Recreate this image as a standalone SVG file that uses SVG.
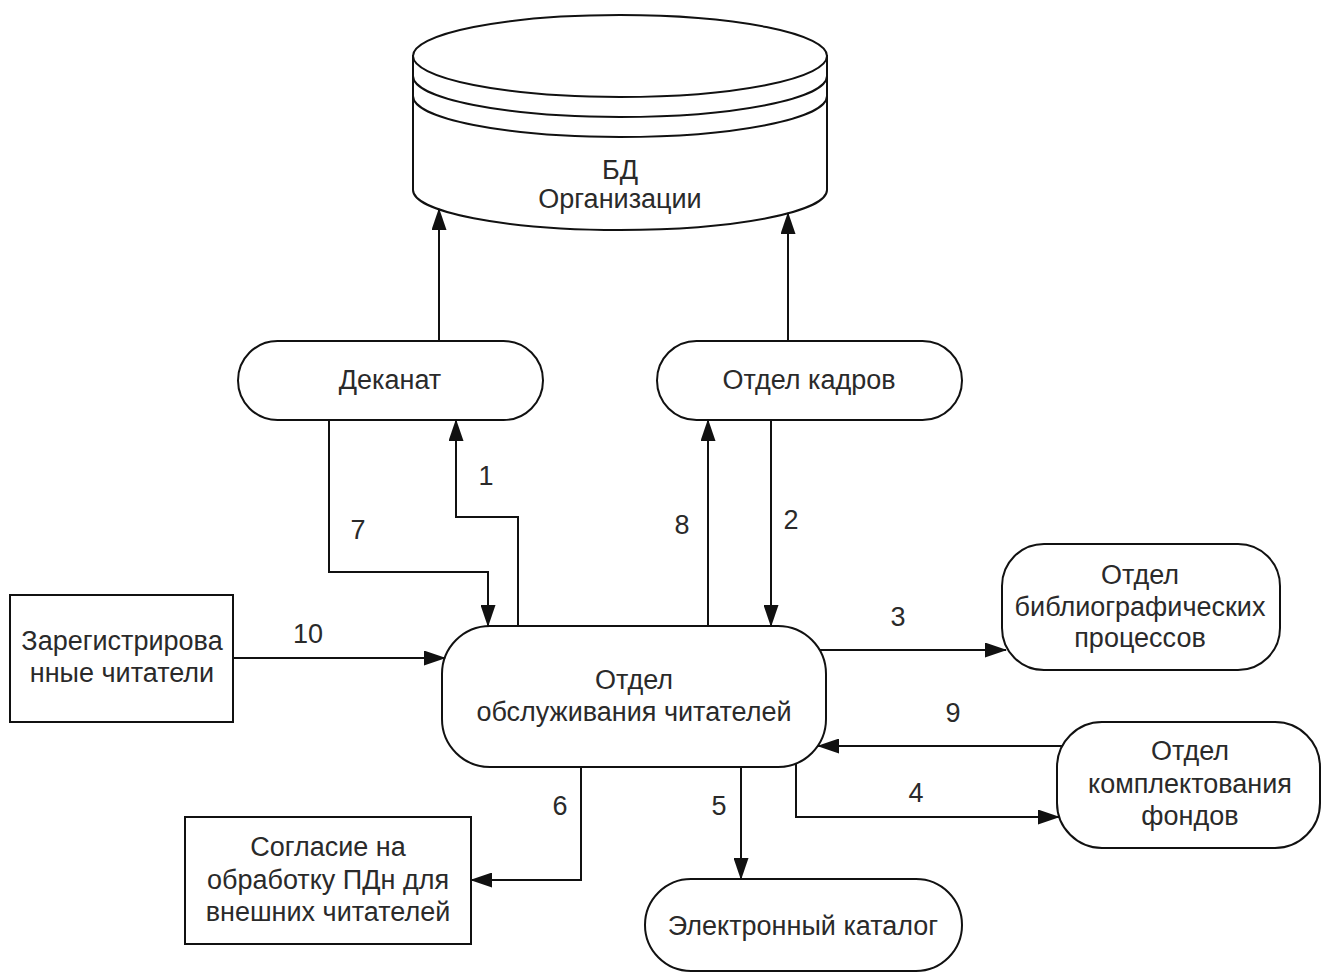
<svg xmlns="http://www.w3.org/2000/svg" width="1322" height="974" viewBox="0 0 1322 974">
<style>
.n{fill:#fff;stroke:#111;stroke-width:2}
.l{fill:none;stroke:#111;stroke-width:2}
.t{font-family:"Liberation Sans",Arial,sans-serif;font-size:27px;fill:#2a2a2a;text-anchor:middle}
.c{fill:none;stroke:#111;stroke-width:2;marker-end:url(#arr)}
</style>
<defs>
<marker id="arr" markerWidth="22" markerHeight="15" refX="21" refY="7.5" orient="auto" markerUnits="userSpaceOnUse">
<path d="M0,0 L22,7.5 L0,15 z" fill="#111"/>
</marker>
</defs>
<rect width="1322" height="974" fill="#fff"/>
<g id="bd">
<path class="n" d="M413,56 L413,190 A207,40 0 0 0 827,190 L827,56 Z"/>
<ellipse class="n" cx="620" cy="56" rx="207" ry="41"/>
<path class="l" d="M413,76 A207,41 0 0 0 827,76"/>
<path class="l" d="M413,96 A207,41 0 0 0 827,96"/>
<text class="t" x="620" y="179">БД</text>
<text class="t" x="620" y="208">Организации</text>
</g>
<g id="dekanat">
<rect class="n" x="238" y="341" width="305" height="79" rx="39.5"/>
<text class="t" x="390" y="389">Деканат</text>
</g>
<g id="kadry">
<rect class="n" x="657" y="341" width="305" height="79" rx="39.5"/>
<text class="t" x="809" y="389">Отдел кадров</text>
</g>
<g id="obsl">
<rect class="n" x="442" y="626" width="384" height="141" rx="48"/>
<text class="t" x="634" y="689">Отдел</text>
<text class="t" x="634" y="721">обслуживания читателей</text>
</g>
<g id="bibl">
<rect class="n" x="1002" y="544" width="278" height="126" rx="42"/>
<text class="t" x="1140" y="584">Отдел</text>
<text class="t" x="1140" y="616">библиографических</text>
<text class="t" x="1140" y="647">процессов</text>
</g>
<g id="kompl">
<rect class="n" x="1057" y="722" width="263" height="126" rx="45"/>
<text class="t" x="1190" y="760">Отдел</text>
<text class="t" x="1190" y="793">комплектования</text>
<text class="t" x="1190" y="825">фондов</text>
</g>
<g id="ekat">
<rect class="n" x="645" y="879" width="317" height="92" rx="46"/>
<text class="t" x="803" y="935">Электронный каталог</text>
</g>
<g id="zareg">
<rect class="n" x="10" y="595" width="223" height="127"/>
<text class="t" x="122" y="650">Зарегистрирова</text>
<text class="t" x="122" y="682">нные читатели</text>
</g>
<g id="soglasie">
<rect class="n" x="185" y="817" width="286" height="127"/>
<text class="t" x="328" y="856">Согласие на</text>
<text class="t" x="328" y="889">обработку ПДн для</text>
<text class="t" x="328" y="921">внешних читателей</text>
</g>
<g id="connectors">
<path class="c" d="M439,341 L439,209"/>
<path class="c" d="M788,341 L788,213"/>
<path class="c" d="M518,626 L518,517 L456,517 L456,420"/>
<path class="c" d="M329,420 L329,572 L488,572 L488,626"/>
<path class="c" d="M708,626 L708,420"/>
<path class="c" d="M771,420 L771,626"/>
<path class="c" d="M819,650 L1006,650"/>
<path class="c" d="M1062,746 L818,746"/>
<path class="c" d="M796,763 L796,817 L1059,817"/>
<path class="c" d="M741,767 L741,879"/>
<path class="c" d="M581,767 L581,880 L471,880"/>
<path class="c" d="M233,658 L445,658"/>
<g class="t">
<text x="486" y="485">1</text>
<text x="791" y="529">2</text>
<text x="898" y="626">3</text>
<text x="916" y="802">4</text>
<text x="719" y="815">5</text>
<text x="560" y="815">6</text>
<text x="358" y="539">7</text>
<text x="682" y="534">8</text>
<text x="953" y="722">9</text>
<text x="308" y="643">10</text>
</g>
</g>
</svg>
